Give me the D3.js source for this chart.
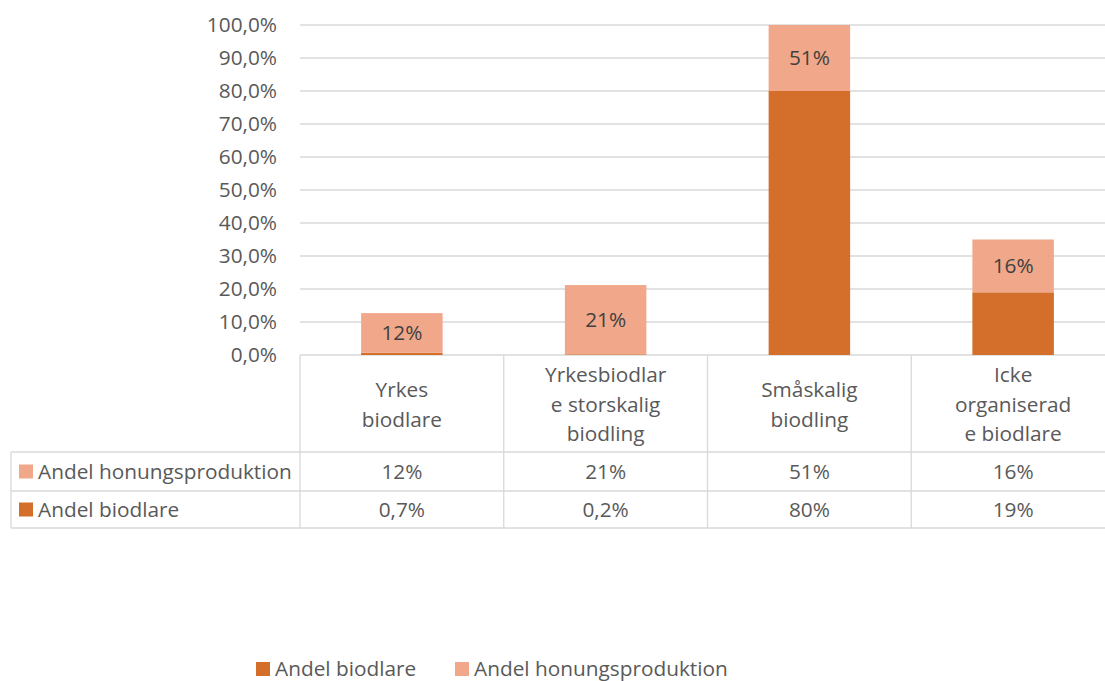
<!DOCTYPE html>
<html>
<head>
<meta charset="utf-8">
<script src="https://cdn.jsdelivr.net/npm/d3@7"></script>
<style>
  html, body { margin: 0; padding: 0; background: #fff; }
  svg { display: block; font-family: "Open Sans", "Noto Sans", sans-serif; }
</style>
</head>
<body>
<svg id="chart" width="1105" height="681"></svg>
<script>
// ---- data ----
const categories = ["Yrkes biodlare", "Yrkesbiodlare storskalig biodling", "Småskalig biodling", "Icke organiserade biodlare"];
const categoryLines = [["Yrkes", "biodlare"], ["Yrkesbiodlar", "e storskalig", "biodling"], ["Småskalig", "biodling"], ["Icke", "organiserad", "e biodlare"]];
const seriesNames = ["Andel biodlare", "Andel honungsproduktion"];
const andelBiodlare = [0.7, 0.2, 80, 19];
const andelHonung = [12, 21, 51, 16];
const yTicks = [0, 10, 20, 30, 40, 50, 60, 70, 80, 90, 100];

// ---- styling ----
const colors = { "Andel biodlare": "#D36F2B", "Andel honungsproduktion": "#F1A88A" };
const gridColor = "#D9D9D9";
const textColor = "#595959";
const labelColor = "#404040";
const fontSize = 20.8;

const svg = d3.select("#chart");
const loc = d3.formatLocale({ decimal: ",", thousands: " ", grouping: [3], currency: ["", ""] });
const fmtTick = v => loc.format(".1f")(v) + "%";
const fmtVal = v => (Number.isInteger(v) ? loc.format(".0f")(v) : loc.format(".1f")(v)) + "%";

const plotLeft = 300, plotRight = 1115, plotTop = 25, plotBottom = 355;
const y = d3.scaleLinear().domain([0, 100]).range([plotBottom, plotTop]);
const x = d3.scaleBand().domain(categories).range([plotLeft, plotRight]).paddingInner(0.6).paddingOuter(0.3);
const step = x.step();

// stacked data
const table = categories.map((c, i) => ({ cat: c, "Andel biodlare": andelBiodlare[i], "Andel honungsproduktion": andelHonung[i] }));
const stack = d3.stack().keys(seriesNames)(table);

// gridlines
svg.append("g").selectAll("line").data(yTicks).join("line")
  .attr("x1", plotLeft).attr("x2", 1105)
  .attr("y1", d => y(d)).attr("y2", d => y(d))
  .attr("stroke", gridColor).attr("stroke-width", 1.3);

// y tick labels
svg.append("g").selectAll("text").data(yTicks).join("text")
  .attr("x", 277).attr("y", d => y(d)).attr("dy", "0.35em")
  .attr("text-anchor", "end").attr("font-size", fontSize).attr("fill", textColor)
  .text(d => fmtTick(d));

// clip
svg.append("clipPath").attr("id", "plotclip").append("rect")
  .attr("x", plotLeft).attr("y", plotTop).attr("width", plotRight - plotLeft).attr("height", plotBottom - plotTop);

const barsG = svg.append("g").attr("clip-path", "url(#plotclip)");
stack.forEach(layer => {
  barsG.append("g").selectAll("rect").data(layer).join("rect")
    .attr("x", d => x(d.data.cat))
    .attr("width", x.bandwidth())
    .attr("y", d => y(d[1]))
    .attr("height", d => y(d[0]) - y(d[1]))
    .attr("fill", colors[layer.key]);
});

// data labels for honey series (centered in visible part)
const honeyLayer = stack[1];
svg.append("g").selectAll("text").data(honeyLayer).join("text")
  .attr("x", d => x(d.data.cat) + x.bandwidth() / 2)
  .attr("y", d => {
    const lo = Math.max(0, d[0]), hi = Math.min(100, d[1]);
    return (y(lo) + y(hi)) / 2;
  })
  .attr("dy", "0.35em")
  .attr("text-anchor", "middle").attr("font-size", fontSize).attr("fill", labelColor)
  .text(d => fmtVal(d.data["Andel honungsproduktion"]));

// ---- data table ----
const tableLeft = 11;
const headerBottom = 452, row1Bottom = 491, row2Bottom = 528;
const tg = svg.append("g");
const lineAttr = sel => sel.attr("stroke", gridColor).attr("stroke-width", 1.3);

// vertical lines at category boundaries
d3.range(categories.length + 1).forEach(i => {
  const xx = plotLeft + i * step;
  tg.append("line").attr("x1", xx).attr("x2", xx).attr("y1", plotBottom).attr("y2", row2Bottom).call(lineAttr);
});
// left border of legend rows
tg.append("line").attr("x1", tableLeft).attr("x2", tableLeft).attr("y1", headerBottom).attr("y2", row2Bottom).call(lineAttr);
// horizontal lines
[headerBottom, row1Bottom, row2Bottom].forEach(yy => {
  tg.append("line").attr("x1", tableLeft).attr("x2", 1105).attr("y1", yy).attr("y2", yy).call(lineAttr);
});

// category header labels
const lineH = 29.5;
categoryLines.forEach((lines, i) => {
  const cx = plotLeft + (i + 0.5) * step;
  const cy = (plotBottom + headerBottom) / 2 + 1;
  const t = tg.append("text").attr("text-anchor", "middle").attr("font-size", fontSize).attr("fill", textColor);
  lines.forEach((ln, j) => {
    t.append("tspan").attr("x", cx)
      .attr("y", cy + (j - (lines.length - 1) / 2) * lineH)
      .attr("dy", "0.35em").text(ln);
  });
});

// rows: honey first, then biodlare
const rows = [
  { name: "Andel honungsproduktion", values: andelHonung, top: headerBottom, bottom: row1Bottom },
  { name: "Andel biodlare", values: andelBiodlare, top: row1Bottom, bottom: row2Bottom }
];
rows.forEach(r => {
  const cy = (r.top + r.bottom) / 2;
  tg.append("rect").attr("x", 19).attr("y", cy - 7).attr("width", 14).attr("height", 14).attr("fill", colors[r.name]);
  tg.append("text").attr("x", 38).attr("y", cy).attr("dy", "0.35em")
    .attr("font-size", fontSize).attr("fill", textColor).text(r.name);
  tg.append("g").selectAll("text").data(r.values).join("text")
    .attr("x", (d, i) => plotLeft + (i + 0.5) * step)
    .attr("y", cy).attr("dy", "0.35em")
    .attr("text-anchor", "middle").attr("font-size", fontSize).attr("fill", textColor)
    .text(d => fmtVal(d));
});

// ---- bottom legend ----
const legendPos = [256, 455];
const lg = svg.append("g");
seriesNames.forEach((s, i) => {
  lg.append("rect").attr("x", legendPos[i]).attr("y", 662).attr("width", 14).attr("height", 14).attr("fill", colors[s]);
  lg.append("text").attr("x", legendPos[i] + 19).attr("y", 675.5)
    .attr("font-size", fontSize).attr("fill", textColor).text(s);
});
</script>
</body>
</html>
